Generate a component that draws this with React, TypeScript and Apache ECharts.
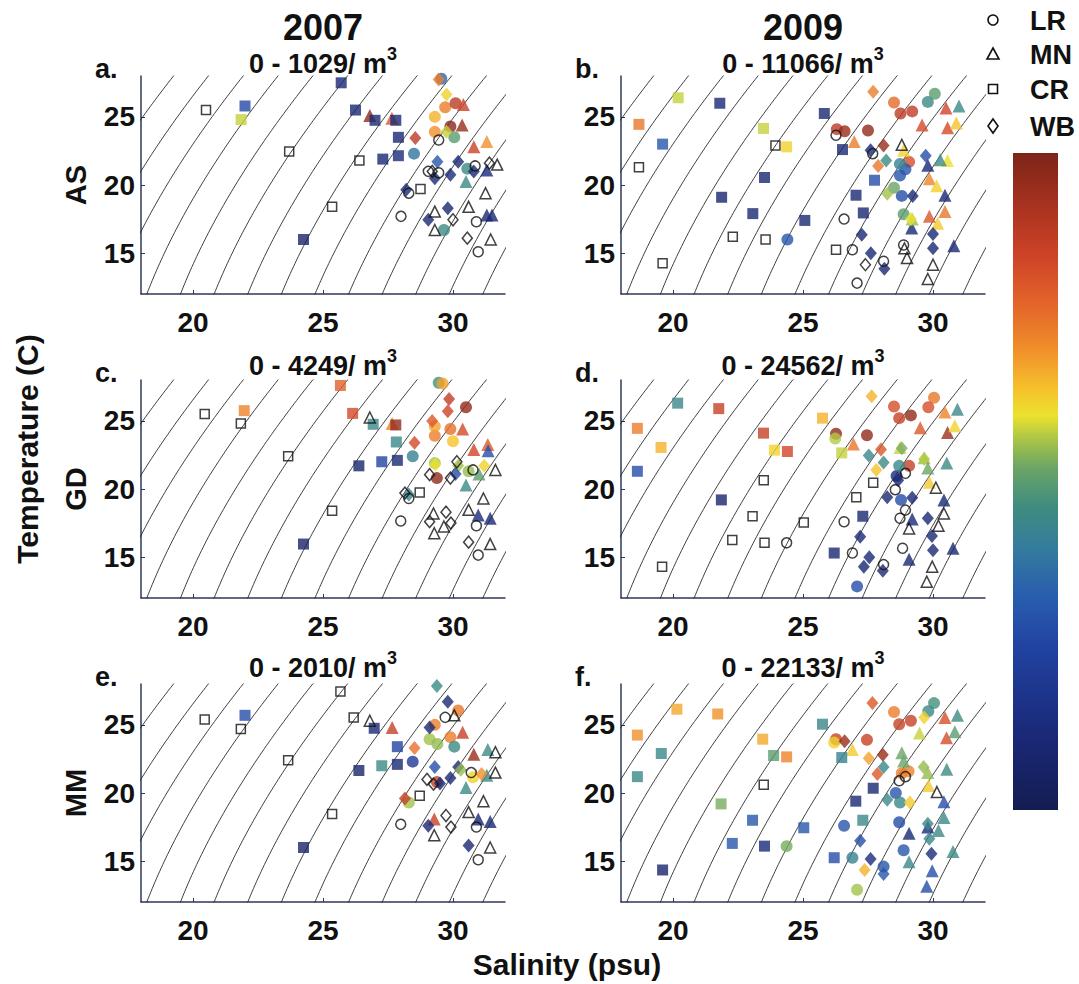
import React, { useEffect, useRef } from "react";
import * as echarts from "echarts";

// ---------- text / categories ----------
const YEARS = ["2007", "2009"];
const SPECIES = ["AS", "GD", "MM"];
const PANEL_LETTERS = ["a.", "b.", "c.", "d.", "e.", "f."];
const PANEL_MAX = [1029, 11066, 4249, 24562, 2010, 22133];
const SITES = ["LR", "MN", "CR", "WB"];
const X_TICKS = [20, 25, 30];
const Y_TICKS = [15, 20, 25];
const SIGMA_LEVELS = [10.6, 11.6, 12.6, 13.6, 14.6, 15.6, 16.6, 17.6, 18.6, 19.6, 20.6, 21.6, 22.6, 23.6];

// ---------- data: [salinity, temperature, abundance fraction of panel max] (0 = none caught) ----------
// a. AS 2007
const aLR = [[28.5,22.3,0.38],[29.45,23.3,0],[28.0,17.7,0],[28.3,19.4,0],[29.05,21.0,0],[29.45,20.9,0],[30.9,17.3,0],[30.97,15.1,0],[30.85,21.4,0],[29.65,16.7,0.45],[30.05,23.5,0.5],[29.3,25.0,0.66],[29.7,25.7,0.73],[30.1,26.0,0.88],[29.3,23.9,0.7],[29.9,24.3,0.98],[30.55,21.2,0.45],[29.55,27.8,0.35]];
const aMN = [[26.8,25.1,0.97],[27.65,24.9,0.8],[30.35,24.4,0.95],[30.8,22.8,0.85],[31.3,23.2,0.7],[31.7,21.5,0],[31.25,19.4,0],[30.6,18.4,0],[31.3,17.8,0.1],[31.5,17.8,0.1],[31.45,16.0,0],[29.3,18.05,0],[29.3,16.7,0],[30.5,20.25,0.45],[31.3,21.1,0.12],[30.4,25.9,0.85]];
const aCR = [[20.5,25.5,0],[22.0,25.8,0.27],[21.85,24.8,0.58],[23.7,22.45,0],[25.7,27.5,0.1],[26.25,25.5,0.1],[26.4,21.8,0],[25.35,18.4,0],[24.25,16.0,0.08],[27.0,24.75,0.1],[27.8,24.75,0.1],[27.9,23.5,0.1],[27.3,21.9,0.1],[27.9,22.15,0.12],[28.75,19.7,0]];
const aWB = [[29.45,27.75,0.73],[29.75,26.65,0.62],[28.55,23.45,0.88],[29.4,21.7,0.3],[30.2,21.7,0.1],[29.3,20.5,0.1],[29.9,20.75,0.12],[28.2,19.65,0.12],[29.05,17.45,0.1],[29.8,18.3,0.1],[30.0,17.45,0],[29.2,21.0,0],[30.55,16.1,0],[31.4,21.6,0],[30.8,21.0,0.1],[29.75,23.9,0.58]];
// b. AS 2009
const bLR = [[24.4,16.0,0.3],[26.58,17.5,0],[26.9,15.25,0],[27.08,12.8,0],[28.1,14.4,0],[26.27,23.65,0],[26.3,24.1,0.88],[26.6,23.95,0.95],[27.5,24.0,0.96],[28.5,26.05,0.76],[28.75,25.25,0.88],[29.2,25.4,0.87],[30.07,26.7,0.5],[29.8,26.1,0.45],[29.08,21.7,0.82],[28.73,20.7,0.3],[28.94,21.15,0.3],[28.73,21.55,0.42],[28.8,19.2,0.28],[28.5,19.8,0.52],[28.87,17.85,0.5],[28.87,15.6,0],[27.68,22.3,0]];
const bMN = [[26.97,23.2,0.73],[28.8,22.95,0],[28.87,22.55,0.62],[29.58,24.4,0.83],[30.5,25.65,0.84],[31.0,25.8,0.45],[30.56,24.2,0.83],[30.9,24.55,0.64],[29.8,21.45,0.1],[30.56,21.8,0.6],[30.28,21.85,0.45],[29.86,20.45,0.72],[30.14,19.95,0.62],[30.46,19.25,0.1],[30.46,18.05,0.74],[30.18,17.2,0.63],[29.18,16.85,0.1],[29.2,17.5,0.55],[29.0,14.65,0],[28.9,15.35,0],[30.0,14.15,0],[29.8,13.1,0],[30.8,15.55,0.1],[29.86,17.7,0.8]];
const bCR = [[18.69,24.45,0.74],[19.6,23.0,0.3],[18.69,21.3,0],[20.2,26.4,0.58],[19.6,14.25,0],[21.8,26.0,0.1],[21.87,19.1,0.08],[23.48,24.15,0.58],[23.94,22.9,0],[24.37,22.8,0.62],[23.52,20.55,0.1],[23.07,17.9,0.1],[25.07,17.4,0.1],[22.3,16.2,0],[23.56,16.0,0],[25.82,25.25,0.1],[26.52,22.6,0.1],[27.04,19.25,0.1],[27.32,17.95,0.1],[27.75,20.35,0.28],[26.27,15.25,0]];
const bWB = [[27.7,26.85,0.73],[27.6,22.55,0.1],[28.1,22.9,0.95],[27.89,21.4,0.74],[28.2,21.8,0.45],[29.72,22.15,0.28],[28.24,19.35,0.56],[29.22,19.2,0.1],[27.26,16.35,0.1],[27.61,15.0,0.1],[28.13,13.85,0.1],[27.4,14.15,0],[30.0,16.4,0.1],[30.0,15.35,0.1],[29.15,17.5,0.6]];
// c. GD 2007
const cLR = [[28.45,22.4,0.42],[27.99,17.65,0],[28.3,19.3,0],[29.38,20.8,0.97],[30.9,17.3,0],[30.97,15.15,0],[30.77,21.4,0],[29.3,21.9,0.56],[30.5,26.0,0.96],[29.3,23.9,0.73],[29.9,24.4,0.75],[30.0,23.5,0.64],[29.45,27.8,0.47],[29.6,27.75,0.68],[30.6,21.3,0.55],[29.3,24.6,0.68]];
const cMN = [[26.8,25.25,0],[27.66,24.8,0.72],[30.37,24.4,0.83],[30.8,22.9,0.84],[31.34,23.27,0.8],[31.35,22.8,0.28],[31.63,21.4,0],[31.17,19.3,0],[30.6,18.47,0],[30.97,18.1,0.12],[31.43,17.86,0.1],[31.43,15.96,0],[29.25,18.2,0],[29.28,16.75,0],[29.65,17.25,0],[30.5,20.3,0.45],[31.0,21.1,0.5]];
const cCR = [[20.45,25.5,0],[21.97,25.75,0.72],[21.84,24.8,0],[23.66,22.4,0],[25.67,27.6,0.78],[26.14,25.55,0.83],[26.93,24.75,0.44],[26.38,21.7,0.08],[27.26,22.0,0.25],[27.86,22.1,0.1],[27.82,23.45,0.44],[27.8,24.7,0.96],[25.35,18.4,0],[24.25,15.96,0.08],[28.72,19.75,0]];
const cWB = [[29.85,26.6,0.87],[29.8,25.7,0.84],[29.2,25.0,0.8],[28.52,23.4,0.83],[29.32,21.8,0.6],[30.2,21.7,0.56],[30.15,22.0,0],[29.9,20.8,0],[29.1,21.05,0],[28.15,19.7,0],[29.1,17.6,0],[29.73,18.3,0],[29.92,17.5,0],[30.6,16.1,0],[28.3,19.6,0.43],[30.1,21.1,0.28],[31.2,21.7,0.62]];
// d. GD 2009
const dLR = [[24.37,16.05,0],[26.58,17.6,0],[26.9,15.3,0],[27.08,12.85,0.28],[28.1,14.45,0],[26.27,24.05,0.96],[26.24,23.7,0.57],[27.46,23.95,0.96],[28.5,26.05,0.82],[28.7,25.2,0.86],[29.15,25.4,0.96],[30.04,26.7,0.74],[29.82,26.0,0.82],[29.08,21.7,0.86],[28.94,21.15,0],[28.77,19.2,0.28],[28.55,19.95,0],[28.94,18.45,0],[28.73,17.85,0],[28.83,15.65,0],[28.6,20.95,0.12],[28.7,21.7,0.44]];
const dMN = [[26.94,23.3,0.74],[29.51,24.5,0.8],[30.46,25.65,0.72],[30.94,25.85,0.44],[30.56,24.15,0.94],[30.84,24.65,0.62],[28.73,23.05,0.58],[29.66,22.3,0.55],[29.8,21.55,0.52],[30.53,21.9,0.45],[29.86,20.5,0.63],[30.11,20.1,0],[30.42,19.2,0.1],[30.42,18.2,0],[30.21,17.3,0],[29.08,17.1,0],[29.97,14.3,0],[29.76,13.2,0],[29.08,14.85,0.1],[30.77,15.65,0.1],[29.2,17.8,0.12]];
const dCR = [[18.63,24.45,0.73],[19.54,23.05,0.66],[18.63,21.3,0.28],[20.18,26.3,0.44],[19.58,14.3,0],[21.76,25.9,0.86],[21.86,19.2,0.08],[23.48,24.1,0.86],[23.9,22.85,0.62],[24.4,22.75,0.84],[23.49,20.65,0],[23.06,18.0,0],[25.03,17.55,0],[22.28,16.25,0],[23.52,16.05,0],[25.75,25.2,0.66],[26.49,22.65,0.58],[27.05,19.4,0],[27.3,18.0,0.1],[27.7,20.45,0],[26.2,15.3,0.1]];
const dWB = [[27.64,26.8,0.66],[28.0,22.9,0.8],[27.53,22.45,0.44],[28.1,21.95,0.45],[27.82,21.4,0.64],[28.66,20.65,0.1],[28.24,19.4,0.1],[29.2,19.35,0.1],[29.8,17.85,0.1],[27.2,16.5,0.1],[27.55,15.0,0.1],[27.34,14.3,0.1],[28.07,14.0,0.1],[29.96,16.55,0.1],[30.0,15.5,0.1],[29.66,22.2,0.57],[28.8,23.0,0.53]];
// e. MM 2007
const eLR = [[28.45,22.3,0.2],[27.99,17.7,0],[30.9,17.5,0],[30.97,15.1,0],[29.3,25.0,0.73],[29.9,24.1,0.73],[30.05,23.4,0.45],[29.1,23.95,0.56],[29.38,20.8,0.86],[29.7,25.55,0],[30.2,26.05,0.74],[30.77,21.15,0.62],[30.7,21.5,0],[28.3,19.3,0.56],[29.4,23.6,0.55]];
const eMN = [[26.8,25.3,0],[27.66,24.8,0.86],[30.37,24.45,0.86],[30.8,22.85,0.95],[31.63,23.0,0],[31.34,23.2,0.45],[31.63,21.5,0],[31.17,19.4,0],[30.6,18.6,0],[30.97,18.1,0.1],[31.43,17.9,0.1],[31.43,16.0,0],[29.28,18.1,0.86],[29.28,16.9,0],[30.05,25.7,0],[30.5,20.4,0.45],[31.3,21.3,0.45]];
const eCR = [[20.45,25.4,0],[22.0,25.7,0.28],[21.84,24.7,0],[23.66,22.4,0],[25.67,27.45,0],[26.18,25.55,0],[26.97,24.75,0.1],[26.38,21.65,0.08],[27.26,22.0,0.45],[27.86,22.1,0.1],[27.86,23.4,0.25],[25.35,18.45,0],[24.25,16.0,0.08],[28.72,19.8,0]];
const eWB = [[29.38,27.85,0.45],[29.8,26.7,0.1],[29.1,24.8,0.1],[28.52,23.3,0.75],[29.3,21.9,0.28],[30.2,21.9,0.1],[30.3,21.7,0.55],[29.5,20.7,0.1],[29.9,21.1,0.1],[28.15,19.6,0.86],[29.0,21.0,0],[29.25,20.65,0],[29.05,17.6,0.1],[29.73,18.35,0],[29.92,17.5,0],[30.6,16.15,0.1],[31.1,21.4,0.7]];
// f. MM 2009
const fLR = [[24.37,16.1,0.53],[26.58,17.6,0.3],[26.9,15.25,0.42],[27.08,12.9,0.56],[28.1,14.6,0.3],[26.27,23.95,0.86],[26.2,23.7,0.62],[27.46,23.9,0.86],[28.5,25.95,0.73],[28.7,25.05,0.86],[29.15,25.3,0.86],[30.04,26.6,0.47],[29.82,26.0,0.44],[29.06,21.6,0.72],[28.8,21.45,0.73],[28.57,20.0,0.3],[28.73,19.3,0.44],[28.7,17.85,0.28],[28.87,15.8,0.3],[28.94,21.2,0],[28.7,20.9,0]];
const fMN = [[26.9,23.2,0.63],[29.48,24.4,0.58],[30.46,25.55,0.82],[30.94,25.7,0.45],[30.52,24.05,0.82],[30.84,24.5,0.5],[28.8,22.95,0.52],[28.87,22.35,0.52],[29.8,21.5,0.55],[30.53,21.75,0.45],[29.83,20.55,0.63],[30.15,20.07,0],[30.42,19.35,0.28],[30.42,18.2,0.44],[30.21,17.25,0.45],[29.08,17.05,0.1],[29.8,17.5,0.12],[29.97,14.3,0.28],[29.76,13.15,0.28],[29.08,14.95,0.44],[30.77,15.7,0.45]];
const fCR = [[18.63,24.25,0.7],[19.55,22.9,0.44],[18.63,21.2,0.44],[20.15,26.15,0.67],[19.6,14.35,0.08],[21.72,25.8,0.7],[21.85,19.2,0.53],[23.45,23.95,0.67],[23.87,22.75,0.5],[24.37,22.65,0.72],[23.49,20.6,0],[23.06,18.0,0.3],[25.03,17.45,0.3],[22.28,16.3,0.3],[23.52,16.1,0.12],[25.75,25.05,0.44],[26.49,22.6,0.42],[27.03,19.4,0.1],[27.3,18.0,0.44],[27.7,20.35,0.1],[26.2,15.25,0.28]];
const fWB = [[27.67,26.6,0.8],[28.07,22.8,0.95],[26.6,23.8,0.95],[27.53,22.55,0.68],[28.1,21.9,0.44],[27.86,21.4,0.8],[28.24,19.5,0.44],[29.64,21.9,0.55],[29.11,19.3,0.63],[29.8,17.75,0.44],[29.86,16.65,0.44],[29.94,15.55,0.12],[27.2,16.5,0.28],[27.6,15.15,0.12],[27.37,14.35,0.66],[28.1,14.05,0.3],[29.66,25.55,0.62]];

const PANEL_DATA = [
  [aLR, aMN, aCR, aWB],
  [bLR, bMN, bCR, bWB],
  [cLR, cMN, cCR, cWB],
  [dLR, dMN, dCR, dWB],
  [eLR, eMN, eCR, eWB],
  [fLR, fMN, fCR, fWB],
];

// ---------- styling / layout ----------
const FONT = '"Liberation Sans", Arial, Helvetica, sans-serif';
const GRID_LEFT = [141, 621];
const GRID_TOP = [76, 380, 684];
const GRID_W = 364;
const GRID_H = 218;
const AXIS_COLOR = "#2c3856";
const CMAP: [number, string][] = [
  [0.0, "#141c52"], [0.12, "#1a2a7a"], [0.25, "#2143a2"], [0.33, "#2a5fae"],
  [0.4, "#347c9c"], [0.46, "#3e8c80"], [0.52, "#6aa466"], [0.56, "#a2c24a"],
  [0.6, "#eae22e"], [0.64, "#f6c22c"], [0.7, "#f0902a"], [0.76, "#e56a2a"],
  [0.84, "#cf4428"], [0.92, "#a8321f"], [1.0, "#7c2418"],
];
const SYMBOLS = ["circle", "triangle", "rect", "diamond"];
const SIZE_FILLED: any[] = [12, 13, 11, [12, 14]];
const SIZE_OPEN: any[] = [10, 11, 9, [10, 12]];

function hexToRgb(h: string) {
  const n = parseInt(h.slice(1), 16);
  return [(n >> 16) & 255, (n >> 8) & 255, n & 255];
}
function cmap(v: number) {
  const t = Math.max(0, Math.min(1, v));
  for (let i = 1; i < CMAP.length; i++) {
    if (t <= CMAP[i][0]) {
      const [t0, c0] = CMAP[i - 1];
      const [t1, c1] = CMAP[i];
      const f = (t - t0) / (t1 - t0);
      const a = hexToRgb(c0), b = hexToRgb(c1);
      const c = a.map((x, k) => Math.round(x + (b[k] - x) * f));
      return `rgb(${c[0]},${c[1]},${c[2]})`;
    }
  }
  return CMAP[CMAP.length - 1][1];
}

// UNESCO EOS-80 density at surface pressure (for isopycnals)
function sigmaT(S: number, T: number) {
  const rw = 999.842594 + 6.793952e-2 * T - 9.09529e-3 * T * T + 1.001685e-4 * T ** 3 - 1.120083e-6 * T ** 4 + 6.536332e-9 * T ** 5;
  const A = 8.24493e-1 - 4.0899e-3 * T + 7.6438e-5 * T * T - 8.2467e-7 * T ** 3 + 5.3875e-9 * T ** 4;
  const B = -5.72466e-3 + 1.0227e-4 * T - 1.6546e-6 * T * T;
  const C = 4.8314e-4;
  return rw + A * S + B * Math.pow(S, 1.5) + C * S * S - 1000;
}
function salinityFor(sig: number, T: number) {
  let lo = 0, hi = 50;
  for (let i = 0; i < 50; i++) {
    const mid = (lo + hi) / 2;
    if (sigmaT(mid, T) < sig) lo = mid; else hi = mid;
  }
  return (lo + hi) / 2;
}
const ISOPYCNALS = SIGMA_LEVELS.map((lvl) => {
  const pts: number[][] = [];
  for (let T = 11.5; T <= 28.51; T += 0.25) pts.push([salinityFor(lvl, T), T]);
  return pts;
});

function buildOption() {
  const grid: any[] = [], xAxis: any[] = [], yAxis: any[] = [], series: any[] = [], graphic: any[] = [];
  const labelStyle = { color: "#111", fontSize: 28, fontWeight: "bold", fontFamily: FONT };
  for (let p = 0; p < 6; p++) {
    const row = Math.floor(p / 2), col = p % 2;
    grid.push({ left: GRID_LEFT[col], top: GRID_TOP[row], width: GRID_W, height: GRID_H });
    xAxis.push({
      gridIndex: p, type: "value", min: 18, max: 32,
      axisLine: { show: true, onZero: false, lineStyle: { color: AXIS_COLOR, width: 1.5 } },
      axisTick: { show: true, inside: true, length: 4, customValues: X_TICKS, lineStyle: { color: AXIS_COLOR } },
      axisLabel: { ...labelStyle, margin: 14, customValues: X_TICKS },
      splitLine: { show: false },
    });
    yAxis.push({
      gridIndex: p, type: "value", min: 12, max: 28,
      axisLine: { show: true, onZero: false, lineStyle: { color: AXIS_COLOR, width: 1.5 } },
      axisTick: { show: true, inside: true, length: 4, customValues: Y_TICKS, lineStyle: { color: AXIS_COLOR } },
      axisLabel: { ...labelStyle, margin: 6, customValues: Y_TICKS },
      splitLine: { show: false },
    });
    ISOPYCNALS.forEach((pts) => {
      series.push({
        type: "line", xAxisIndex: p, yAxisIndex: p, data: pts, symbol: "none", silent: true,
        clip: true, z: 1, lineStyle: { color: "#2a2a2a", width: 0.9 },
      });
    });
    PANEL_DATA[p].forEach((arr, si) => {
      const filled = arr.filter((d) => d[2] > 0);
      const open = arr.filter((d) => d[2] <= 0);
      series.push({
        type: "scatter", name: SITES[si], xAxisIndex: p, yAxisIndex: p, clip: false, z: 3,
        symbol: SYMBOLS[si], symbolSize: SIZE_FILLED[si],
        data: filled.map((d) => ({ value: [d[0], d[1]], itemStyle: { color: cmap(d[2]), borderWidth: 0 } })),
      });
      series.push({
        type: "scatter", name: SITES[si] + " none", xAxisIndex: p, yAxisIndex: p, clip: false, z: 4,
        symbol: SYMBOLS[si], symbolSize: SIZE_OPEN[si],
        data: open.map((d) => ({ value: [d[0], d[1]], itemStyle: { color: "rgba(255,255,255,0)", borderColor: "#111", borderWidth: 1.5 } })),
      });
    });
    const cx = GRID_LEFT[col] + GRID_W / 2;
    const subY = [61, 363, 665][row];
    graphic.push({
      type: "text", x: cx, y: subY,
      style: {
        text: `{n|0 - ${PANEL_MAX[p]}/ m}{s|3}`, align: "center", verticalAlign: "middle",
        textAlign: "center", textVerticalAlign: "middle", fill: "#111",
        rich: {
          n: { fontSize: 27, fontWeight: "bold", fontFamily: FONT, lineHeight: 32, verticalAlign: "bottom", fill: "#111" },
          s: { fontSize: 18, fontWeight: "bold", fontFamily: FONT, lineHeight: 18, verticalAlign: "top", fill: "#111" },
        },
      },
    });
    graphic.push({
      type: "text", x: GRID_LEFT[col] - 46, y: GRID_TOP[row] - 7,
      style: { text: PANEL_LETTERS[p], font: `bold 27px ${FONT}`, fill: "#111", align: "left", verticalAlign: "middle", textAlign: "left", textVerticalAlign: "middle" },
    });
    if (col === 0) {
      graphic.push({
        type: "text", x: 76, y: GRID_TOP[row] + GRID_H / 2, rotation: Math.PI / 2,
        style: { text: SPECIES[row], font: `bold 29px ${FONT}`, fill: "#111", align: "center", verticalAlign: "middle", textAlign: "center", textVerticalAlign: "middle" },
      });
    }
    if (row === 0) {
      graphic.push({
        type: "text", x: cx, y: 27,
        style: { text: YEARS[col], font: `bold 36px ${FONT}`, fill: "#111", align: "center", verticalAlign: "middle", textAlign: "center", textVerticalAlign: "middle" },
      });
    }
  }
  // axis titles
  graphic.push({
    type: "text", x: 27, y: 449, rotation: Math.PI / 2,
    style: { text: "Temperature (C)", font: `bold 30px ${FONT}`, fill: "#111", align: "center", verticalAlign: "middle", textAlign: "center", textVerticalAlign: "middle" },
  });
  graphic.push({
    type: "text", x: 567, y: 964,
    style: { text: "Salinity (psu)", font: `bold 30px ${FONT}`, fill: "#111", align: "center", verticalAlign: "middle", textAlign: "center", textVerticalAlign: "middle" },
  });
  // legend of sites (open symbols)
  const lx = 993;
  const ly = [20, 54, 89, 126];
  const lstyle = { fill: "#fff", stroke: "#111", lineWidth: 1.6 };
  graphic.push({ type: "circle", shape: { cx: lx, cy: ly[0], r: 5 }, style: lstyle });
  graphic.push({ type: "polygon", shape: { points: [[lx, ly[1] - 6], [lx + 6, ly[1] + 5], [lx - 6, ly[1] + 5]] }, style: lstyle });
  graphic.push({ type: "rect", shape: { x: lx - 4.5, y: ly[2] - 4.5, width: 9, height: 9 }, style: lstyle });
  graphic.push({ type: "polygon", shape: { points: [[lx, ly[3] - 7], [lx + 5, ly[3]], [lx, ly[3] + 7], [lx - 5, ly[3]]] }, style: lstyle });
  SITES.forEach((s, i) => {
    graphic.push({
      type: "text", x: 1030, y: ly[i] + 1,
      style: { text: s, font: `bold 27px ${FONT}`, fill: "#111", align: "left", verticalAlign: "middle", textAlign: "left", textVerticalAlign: "middle" },
    });
  });
  // colorbar
  graphic.push({
    type: "rect", shape: { x: 1013, y: 153, width: 45, height: 657 },
    style: {
      fill: new echarts.graphic.LinearGradient(0, 1, 0, 0, CMAP.map(([o, c]) => ({ offset: o, color: c }))),
    },
  });
  return { animation: false, backgroundColor: "#fff", grid, xAxis, yAxis, series, graphic };
}

export default function App() {
  const ref = useRef<HTMLDivElement>(null);
  useEffect(() => {
    if (!ref.current) return;
    const chart = echarts.init(ref.current, null, { renderer: "svg" });
    chart.setOption(buildOption() as any);
    return () => chart.dispose();
  }, []);
  return <div ref={ref} style={{ position: "absolute", left: 0, top: 0, width: 1079, height: 984 }} />;
}
